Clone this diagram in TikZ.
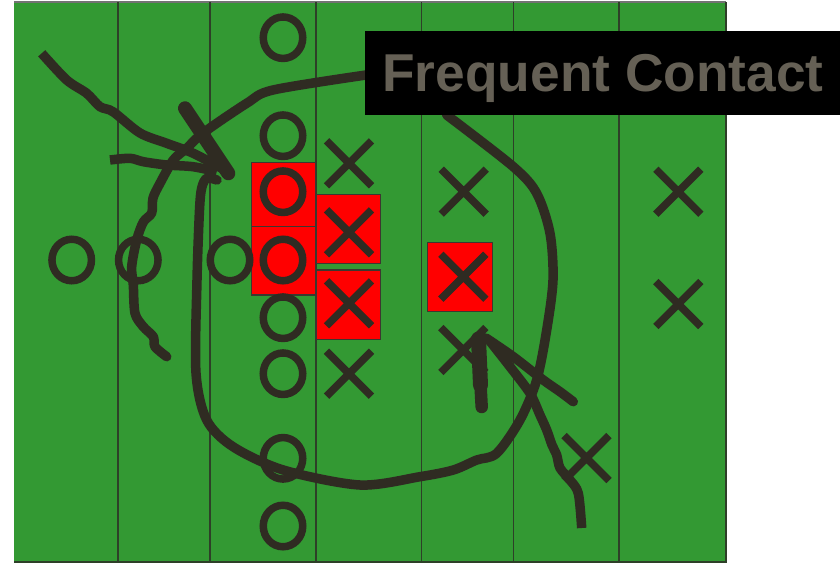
\documentclass[tikz,border=0pt]{standalone}
\usepackage{fontspec}
\setmainfont{Liberation Sans}
\usetikzlibrary{shapes.geometric,shapes.misc}
\definecolor{turf}{HTML}{339933}
\definecolor{ink}{HTML}{2F2B22}
\definecolor{yardline}{HTML}{2E3F28}
\definecolor{caption}{HTML}{656055}
\tikzset{
  ink/.style={draw=ink,line width=9.5pt,line cap=round,line join=round},
  omark/.style={ellipse,draw=ink,line width=7.5pt,minimum width=39.5pt,minimum height=41.5pt,inner sep=0pt},
  xmark/.style={cross out,draw=ink,line width=7.5pt,minimum size=37.5pt,inner sep=0pt,line cap=butt},
  redbox/.style={rectangle,fill=red,draw=ink!85!gray,line width=1.5pt,inner sep=0pt},
  yard/.style={draw=yardline,line width=1.3pt},
}
\begin{document}
\begin{tikzpicture}[x=1pt,y=-1pt]
\useasboundingbox (0,0) rectangle (840,563);
% field
\fill[turf] (14,2) rectangle (726,562);
\draw[draw=gray!90!black,line width=1.2pt] (14,2) -- (726,2);
\draw[draw=yardline,line width=1.5pt] (14,562) -- (726,562) -- (726,2);
\foreach \xx in {118,210,316,421.7,513.7,619}
  \draw[yard] (\xx,2) -- (\xx,562);
% highlighted players
\node[redbox,minimum width=64.4pt,minimum height=64pt] (b1) at (283.5,194.7) {};
\node[redbox,minimum width=64.4pt,minimum height=68.3pt] (b2) at (283.5,260.8) {};
\node[redbox,minimum width=64.3pt,minimum height=69pt] (b3) at (348.2,228.8) {};
\node[redbox,minimum width=64.3pt,minimum height=69.3pt] (b4) at (348.2,304.7) {};
\node[redbox,minimum width=65.4pt,minimum height=69.4pt] (b5) at (460,277) {};
% offence
\node[omark] (o1) at (283,37.7) {};
\node[omark] (o2) at (283,135.7) {};
\node[omark] (o3) at (283,191.7) {};
\node[omark] (o4) at (283,260) {};
\node[omark] (o5) at (283,317.7) {};
\node[omark] (o6) at (283,373.7) {};
\node[omark] (o7) at (283,458.3) {};
\node[omark] (o8) at (283,526) {};
\node[omark] (o9) at (71.7,260) {};
\node[omark] (o10) at (138.3,260) {};
\node[omark] (o11) at (230,260) {};
% defence
\node[xmark] (x1) at (349,163.3) {};
\node[xmark] (x2) at (349,232.3) {};
\node[xmark] (x3) at (349,303.3) {};
\node[xmark] (x4) at (349,373.7) {};
\node[xmark] (x5) at (463.7,191.7) {};
\node[xmark] (x6) at (463.3,276.7) {};
\node[xmark] (x7) at (463.3,350) {};
\node[xmark] (x8) at (586.5,458) {};
\node[xmark] (x9) at (678.3,191.7) {};
\node[xmark] (x10) at (678.3,304) {};
% hand-drawn strokes
\coordinate (lead) at (366,75);
\draw[ink,line cap=butt] plot[smooth,tension=0.5] coordinates {(41.7,53.3) (66.7,80) (86.7,93.3) (100,106.7) (113,111.7) (140,133) (166.7,143.3) (193.3,153.3) (228,171.7)};
\draw[ink,line cap=butt] plot[smooth,tension=0.5] coordinates {(110,160) (130,158.3) (143.3,161.7) (166.7,165) (193,166.7) (216.7,171.7)};
\draw[ink,line width=14pt] (185,108.3) -- (228.3,173.3);
\draw[ink] plot[smooth,tension=0.5] coordinates {(lead) (273,90) (246.7,103.3) (203,133) (186.7,148.3) (173.3,160) (160,183.3) (153,198) (151.7,213) (143.3,222) (136.7,240) (131.7,266.7) (133.3,285) (135,313.3) (143.3,326.7) (153.3,336.7) (155,346.7) (166.7,356.7)};
\draw[ink] plot[smooth,tension=0.5] coordinates {(217,180) (206.7,178.3) (201.7,188) (199.5,210) (197,280) (196,373) (206.7,420) (233,446.7) (283.3,470) (360,485) (420,476.7) (453.3,470) (476.7,460) (496.7,453.3) (520,420) (536.7,380) (546.7,330) (553,280) (550,233.3) (536.7,193.3) (513.3,166.7) (446.7,115)};
\draw[ink,line width=15pt] (478.5,339) -- (480.5,385);
\draw[ink,line width=12.5pt] (480.5,385) -- (481.7,407);
\draw[ink] plot[smooth,tension=0.5] coordinates {(486,338) (513.3,356.7) (543.3,380) (560,391.7) (573.3,401.7)};
\draw[ink,line cap=butt] plot[smooth,tension=0.5] coordinates {(489,340) (510,366.7) (530,393.3) (540,415) (546.7,430) (552,445) (556.7,455) (560,468) (570,480) (578.3,493.3) (581.7,528)};
% caption box
\node[fill=black,minimum width=477pt,minimum height=83.7pt,inner sep=0pt,
      text height=38pt,text depth=0pt,text=caption,
      font=\fontsize{53.3}{60}\selectfont\bfseries] (label) at (603,72.9) {Frequent Contact};
\end{tikzpicture}
\end{document}
